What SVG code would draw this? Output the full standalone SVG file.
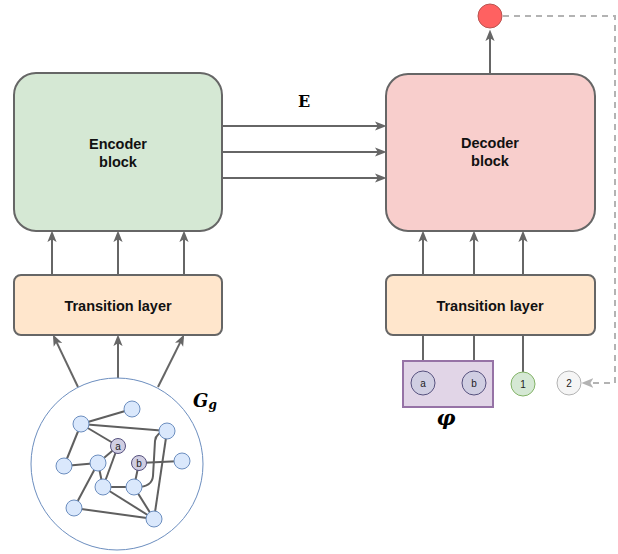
<svg xmlns="http://www.w3.org/2000/svg" width="618" height="554" viewBox="0 0 618 554">
  <defs>
    <marker id="arr" viewBox="0 0 10 8" refX="7" refY="4" markerWidth="11.5" markerHeight="10" markerUnits="userSpaceOnUse" orient="auto">
      <path d="M0,0 L10,4 L0,8 L2.5,4 Z" fill="#666666"/>
    </marker>
    <marker id="arrGray" viewBox="0 0 10 8" refX="7" refY="4" markerWidth="12" markerHeight="10" markerUnits="userSpaceOnUse" orient="auto">
      <path d="M0,0 L10,4 L0,8 L2.5,4 Z" fill="#b3b3b3"/>
    </marker>
    <style>
      .box { stroke: #666666; stroke-width: 2; }
      .enc { fill: #d5e8d4; }
      .dec { fill: #f8cecc; }
      .trans { fill: #ffe6cc; }
      .lbl { font-family: "Liberation Sans", Arial, sans-serif; font-weight: bold; font-size: 14.5px; fill: #111111; text-anchor: middle; }
      .conn { stroke: #666666; stroke-width: 2; fill: none; }
      .dash { stroke: #b3b3b3; stroke-width: 2; fill: none; stroke-dasharray: 6 5; }
      .edge { stroke: #5f5f5f; stroke-width: 2; fill: none; }
      .gnode { fill: #dae8fc; stroke: #6c8ebf; stroke-width: 1; }
      .snode { fill: #d0cee2; stroke: #56517e; stroke-width: 1; }
      .small { font-family: "Liberation Sans", Arial, sans-serif; font-size: 10px; fill: #222222; text-anchor: middle; }
      .math { font-family: "DejaVu Serif", "Liberation Serif", serif; font-weight: bold; fill: #000000; }
    </style>
  </defs>

  <!-- connectors -->
  <g id="connectors">
    <!-- graph to left transition layer -->
    <line class="conn" x1="78" y1="387" x2="54.4" y2="337.6" marker-end="url(#arr)"/>
    <line class="conn" x1="118" y1="378" x2="118" y2="338" marker-end="url(#arr)"/>
    <line class="conn" x1="158" y1="387" x2="182.6" y2="337.6" marker-end="url(#arr)"/>
    <!-- left transition layer to encoder -->
    <line class="conn" x1="52" y1="275" x2="52" y2="234" marker-end="url(#arr)"/>
    <line class="conn" x1="118" y1="275" x2="118" y2="234" marker-end="url(#arr)"/>
    <line class="conn" x1="184" y1="275" x2="184" y2="234" marker-end="url(#arr)"/>
    <!-- encoder to decoder -->
    <line class="conn" x1="222" y1="126" x2="383" y2="126" marker-end="url(#arr)"/>
    <line class="conn" x1="222" y1="152" x2="383" y2="152" marker-end="url(#arr)"/>
    <line class="conn" x1="222" y1="178" x2="383" y2="178" marker-end="url(#arr)"/>
    <!-- right transition layer to decoder -->
    <line class="conn" x1="423" y1="275" x2="423" y2="234" marker-end="url(#arr)"/>
    <line class="conn" x1="474" y1="275" x2="474" y2="234" marker-end="url(#arr)"/>
    <line class="conn" x1="523" y1="275" x2="523" y2="234" marker-end="url(#arr)"/>
    <!-- inputs to right transition layer -->
    <line class="conn" x1="423" y1="335" x2="423" y2="371"/>
    <line class="conn" x1="474" y1="335" x2="474" y2="371"/>
    <line class="conn" x1="523" y1="335" x2="523" y2="372"/>
    <!-- decoder output -->
    <line class="conn" x1="490" y1="73" x2="490" y2="33" marker-end="url(#arr)"/>
    <!-- feedback loop -->
    <path class="dash" d="M503,16 L615,16 L615,383 L585,383" marker-end="url(#arrGray)"/>
  </g>

  <!-- encoder -->
  <g id="encoder">
    <rect class="box enc" x="14" y="73" width="208" height="158" rx="22"/>
    <text class="lbl" x="118" y="149">Encoder</text>
    <text class="lbl" x="118" y="167">block</text>
  </g>

  <!-- decoder -->
  <g id="decoder">
    <rect class="box dec" x="386" y="74" width="209" height="157" rx="22"/>
    <text class="lbl" x="490" y="148">Decoder</text>
    <text class="lbl" x="490" y="166">block</text>
  </g>

  <!-- transition layers -->
  <g id="transition-left">
    <rect class="box trans" x="14" y="275" width="208" height="60" rx="7"/>
    <text class="lbl" x="118" y="310.5">Transition layer</text>
  </g>
  <g id="transition-right">
    <rect class="box trans" x="386" y="275" width="209" height="60" rx="7"/>
    <text class="lbl" x="490" y="310.5">Transition layer</text>
  </g>

  <!-- E label -->
  <g id="label-E">
    <text class="math" x="304" y="107" font-size="16" text-anchor="middle">E</text>
  </g>

  <!-- output token -->
  <g id="output-node">
    <circle cx="490" cy="16" r="12" fill="#ff6161" stroke="#b85450" stroke-width="1"/>
  </g>

  <!-- input graph -->
  <g id="graph">
    <circle cx="117" cy="464" r="86" fill="#ffffff" stroke="#6c8ebf" stroke-width="1"/>
    <g id="graph-edges">
      <line class="edge" x1="81" y1="424" x2="132" y2="409"/>
      <line class="edge" x1="81" y1="424" x2="167" y2="431"/>
      <line class="edge" x1="81" y1="424" x2="118" y2="446"/>
      <line class="edge" x1="81" y1="424" x2="64" y2="466"/>
      <line class="edge" x1="64" y1="466" x2="98" y2="463"/>
      <line class="edge" x1="98" y1="463" x2="118" y2="446"/>
      <line class="edge" x1="118" y1="446" x2="103" y2="487"/>
      <line class="edge" x1="98" y1="463" x2="103" y2="487"/>
      <line class="edge" x1="98" y1="463" x2="74" y2="508"/>
      <line class="edge" x1="103" y1="487" x2="134" y2="487"/>
      <line class="edge" x1="103" y1="487" x2="154" y2="519"/>
      <line class="edge" x1="134" y1="487" x2="154" y2="519"/>
      <line class="edge" x1="134" y1="487" x2="139" y2="463"/>
      <line class="edge" x1="139" y1="463" x2="182" y2="461"/>
      <line class="edge" x1="74" y1="508" x2="154" y2="519"/>
      <line class="edge" x1="167" y1="431" x2="154" y2="519"/>
      <path class="edge" d="M134,487 Q152,488 153,476 L155,441 Q156,432 167,431"/>
    </g>
    <circle class="gnode" cx="132" cy="409" r="8"/>
    <circle class="gnode" cx="81" cy="424" r="8"/>
    <circle class="gnode" cx="167" cy="431" r="8"/>
    <circle class="gnode" cx="182" cy="461" r="8"/>
    <circle class="gnode" cx="64" cy="466" r="8"/>
    <circle class="gnode" cx="98" cy="463" r="8"/>
    <circle class="gnode" cx="103" cy="487" r="8"/>
    <circle class="gnode" cx="134" cy="487" r="8"/>
    <circle class="gnode" cx="74" cy="508" r="8"/>
    <circle class="gnode" cx="154" cy="519" r="8"/>
    <circle class="snode" cx="118" cy="446" r="7.5"/>
    <text class="small" x="118" y="449.5">a</text>
    <circle class="snode" cx="139" cy="463" r="7.5"/>
    <text class="small" x="139" y="466.5">b</text>
  </g>

  <!-- graph label -->
  <g id="label-G">
    <text class="math" x="193" y="407" font-size="18" font-style="italic">G<tspan font-size="12" dy="2">g</tspan></text>
  </g>

  <!-- phi group -->
  <g id="phi">
    <rect x="403" y="361" width="90" height="46" fill="#e1d5e7" stroke="#9673a6" stroke-width="2"/>
    <circle class="snode" cx="423" cy="383" r="12"/>
    <text class="small" x="423" y="386.5">a</text>
    <circle class="snode" cx="474" cy="383" r="12"/>
    <text class="small" x="474" y="386.5">b</text>
  </g>
  <g id="label-phi">
    <text class="math" x="446" y="425" font-size="21" font-style="italic" text-anchor="middle">φ</text>
  </g>

  <!-- generated tokens -->
  <g id="token-1">
    <circle cx="523" cy="384" r="12" fill="#d5e8d4" stroke="#82b366" stroke-width="1"/>
    <text class="small" x="523" y="387.5">1</text>
  </g>
  <g id="token-2">
    <circle cx="569" cy="383" r="12" fill="#f5f5f5" stroke="#b3b3b3" stroke-width="1"/>
    <text class="small" x="569" y="386.5">2</text>
  </g>
</svg>
